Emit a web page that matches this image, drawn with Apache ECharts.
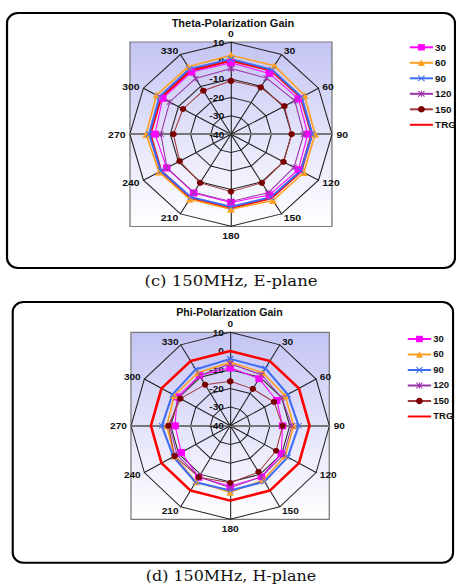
<!DOCTYPE html>
<html>
<head>
<meta charset="utf-8">
<script src="https://cdn.jsdelivr.net/npm/echarts@6/dist/echarts.min.js"></script>
<style>
html,body{margin:0;padding:0;background:#fff;overflow:hidden;}
#page{position:relative;width:456px;height:588px;}
/* the original figure is stretched sideways a little, each panel by its own amount */
#chartE{position:absolute;left:0;top:0;width:415px;height:292px;transform-origin:0 0;transform:scaleX(1.0988);}
#chartH{position:absolute;left:0;top:292px;width:430px;height:296px;transform-origin:0 0;transform:scaleX(1.0605);}
</style>
</head>
<body>
<div id="page">
	<div id="chartE"></div>
	<div id="chartH"></div>
</div>
<script>
// angle (deg) of every measured point, and the tick labels round the rim
var angles = [0, 30, 60, 90, 120, 150, 180, 210, 240, 270, 300, 330];
var angleLabels = ['0', '30', '60', '90', '120', '150', '180', '210', '240', '270', '300', '330'];
var seriesNames = ['30', '60', '90', '120', '150', 'TRG'];
var gainMin = -40, gainMax = 10, gainStep = 10;

// (c) 150MHz, E-plane : Theta-Polarization Gain
var theta30  = [-1.2, -1.9, -1.5, -2.0, -1.5, -1.9, -2.9, -3.1, -3.3, -2.4, -1.0, -1.0];
var theta60  = [2.9, 3.0, 2.0, 1.6, 1.6, 1.6, 0.8, 0.8, 1.1, 2.0, 2.5, 2.3];
var theta90  = [0.8, 0.5, 0.3, 0.2, -0.2, -0.5, -0.6, -0.5, 0.0, 0.5, 0.8, 1.0];
var theta120 = [-4.3, -4.8, -3.6, -4.0, -4.0, -3.2, -3.5, -3.4, -3.5, -5.3, -5.0, -5.0];
var theta150 = [-11.0, -10.6, -9.5, -10.0, -10.0, -9.5, -8.8, -9.5, -10.7, -11.5, -12.6, -12.7];
var thetaTRG = [0, 0, 0, 0, 0, 0, 0, 0, 0, 0, 0, 0];

// (d) 150MHz, H-plane : Phi-Polarization Gain
var phi30  = [-9.0, -10.9, -12.9, -13.6, -10.3, -8.5, -7.7, -8.2, -11.5, -12.2, -9.1, -9.0];
var phi60  = [-6.0, -7.2, -8.0, -8.0, -8.0, -6.5, -4.5, -5.5, -7.5, -8.0, -7.5, -7.2];
var phi90  = [-4.2, -4.5, -6.5, -5.5, -6.5, -5.5, -5.4, -5.1, -6.9, -5.5, -6.4, -5.2];
var phi120 = [-6.8, -8.5, -10.0, -8.9, -9.0, -8.5, -6.8, -8.5, -9.0, -9.4, -10.2, -9.1];
var phi150 = [-16.2, -17.2, -14.5, -13.6, -13.3, -11.5, -9.5, -8.3, -7.6, -8.8, -11.0, -14.6];
var phiTRG = [0, 0, 0, 0, 0, 0, 0, 0, 0, 0, 0, 0];

var font = "'Liberation Sans', Arial, sans-serif";
var xMark = 'path://M1,0L5,4L9,0L10,1L6,5L10,9L9,10L5,6L1,10L0,9L4,5L0,1Z';
var starMark = 'path://M1,0L5,4L9,0L10,1L6,5L10,9L9,10L5,6L1,10L0,9L4,5L0,1Z M4.4,0L5.6,0L5.6,10L4.4,10Z';

var styles = {
	'30':  {color: '#ff00ff', line: '#ff00ff', width: 1,   symbol: 'rect',     size: 7},
	'60':  {color: '#ffa020', line: '#ffa020', width: 1.5, symbol: 'triangle', size: 7},
	'90':  {color: '#3f6cf5', line: '#3f6cf5', width: 2,   symbol: xMark,      size: 6},
	'120': {color: '#9a32a8', line: '#9a32a8', width: 1,   symbol: starMark,   size: 6},
	'150': {color: '#7a0000', line: '#a03a3a', width: 1,   symbol: 'circle',   size: 6},
	'TRG': {color: '#ff0000', line: '#ff0000', width: 2.5, symbol: 'none',     size: 0}
};

// [radius, angle] pairs, first point repeated at 360 to close the ring
function ring(vals) {
	var d = [];
	for (var i = 0; i < vals.length; i++) {
		d.push([vals[i], angles[i]]);
	}
	d.push([vals[0], 360]);
	return d;
}

function makeSeries(lists) {
	var out = [];
	for (var i = 0; i < seriesNames.length; i++) {
		var s = styles[seriesNames[i]];
		out.push({
			name: seriesNames[i],
			type: 'line',
			coordinateSystem: 'polar',
			data: ring(lists[i]),
			symbol: s.symbol,
			symbolSize: s.size,
			showSymbol: s.symbol !== 'none',
			lineStyle: {color: s.line, width: s.width},
			itemStyle: {color: s.color},
			z: i === 5 ? 3 : 4,
			animation: false
		});
	}
	return out;
}

// radar only draws the 12-sided grid and the angle names
function indicators() {
	var ind = [];
	for (var i = 0; i < angleLabels.length; i++) {
		var k = (angleLabels.length - i) % angleLabels.length; // radar goes counter-clockwise
		var item = {name: angleLabels[k], min: gainMin, max: gainMax};
		if (angleLabels[k] === '90' || angleLabels[k] === '270') {
			item.axisLine = {lineStyle: {color: '#777', width: 2}};
		}
		ind.push(item);
	}
	return ind;
}

function legendData() {
	return seriesNames.map(function (n) {
		return n === 'TRG' ? {name: n, itemStyle: {opacity: 0}} : {name: n};
	});
}

function buildOption(p) {
	return {
		backgroundColor: 'transparent',
		animation: false,
		title: {
			text: p.title, left: p.titleX, top: p.titleY, padding: 0, textAlign: 'center',
			textStyle: {fontSize: 10, fontWeight: 'bold', fontFamily: font, color: '#111'}
		},
		legend: {
			orient: 'vertical', left: p.legendX, top: p.legendY, padding: 0,
			itemWidth: p.legendW, itemHeight: 8, itemGap: 5.5,
			textStyle: {fontSize: 9, lineHeight: 10, fontWeight: 'bold', fontFamily: font, color: '#111', padding: [0, 0, 0, -3]},
			data: legendData()
		},
		radar: {
			center: p.center,
			radius: p.radius,
			startAngle: 90,
			shape: 'polygon',
			splitNumber: (gainMax - gainMin) / gainStep,
			indicator: indicators(),
			axisName: {color: '#111', fontSize: 9.5, fontWeight: 'bold', fontFamily: font},
			nameGap: 4,
			splitLine: {lineStyle: {color: '#222', width: 1}},
			splitArea: {show: false},
			axisLine: {lineStyle: {color: '#222', width: 1}},
			axisLabel: {show: false},
			z: 1
		},
		polar: {center: p.center, radius: [0, p.radius]},
		angleAxis: {type: 'value', min: 0, max: 360, startAngle: 90, clockwise: true, show: false},
		radiusAxis: {
			type: 'value', min: gainMin, max: gainMax, interval: gainStep,
			axisLine: {show: false}, axisTick: {show: false}, splitLine: {show: false},
			axisLabel: {color: '#111', fontSize: 9.5, fontWeight: 'bold', fontFamily: font, margin: 6},
			z: 2
		},
		graphic: [
			{
				type: 'rect', z: -10,
				shape: {x: p.panel[0], y: p.panel[1], width: p.panel[2], height: p.panel[3], r: 10},
				style: {fill: '#fff', stroke: '#000', lineWidth: 2}
			},
			{
				type: 'rect', z: -5,
				shape: {x: p.box[0], y: p.box[1], width: p.box[2], height: p.box[3]},
				style: {
					fill: new echarts.graphic.LinearGradient(0, 0, 0, 1, [
						{offset: 0, color: '#c4c4f4'},
						{offset: 0.55, color: '#e6e6fb'},
						{offset: 1, color: '#ffffff'}
					]),
					stroke: '#7a7a7a', lineWidth: 1.2
				}
			},
			{
				type: 'text', z: 5, x: p.capX, y: p.capY,
				style: {text: p.caption, fill: '#111', font: "15px 'DejaVu Serif', 'Liberation Serif', serif",
					textAlign: 'center', textVerticalAlign: 'middle'}
			}
		],
		series: makeSeries(p.lists)
	};
}

var chartE = echarts.init(document.getElementById('chartE'), null, {renderer: 'svg'});
chartE.setOption(buildOption({
	title: 'Theta-Polarization Gain', titleX: 212, titleY: 18.5,
	legendX: 372, legendY: 42.3, legendW: 21,
	center: [210.2, 134.2], radius: 92,
	panel: [6.4, 13, 407.7, 255],
	box: [118.3, 42, 183.8, 184.5],
	caption: '(c) 150MHz, E-plane', capX: 210.2, capY: 281,
	lists: [theta30, theta60, theta90, theta120, theta150, thetaTRG]
}));

var chartH = echarts.init(document.getElementById('chartH'), null, {renderer: 'svg'});
chartH.setOption(buildOption({
	title: 'Phi-Polarization Gain', titleX: 216.4, titleY: 15.5,
	legendX: 383.5, legendY: 42, legendW: 22,
	center: [217.1, 133.8], radius: 93.5,
	panel: [12, 10, 415.2, 260.7],
	box: [123.5, 40.3, 187, 187],
	caption: '(d) 150MHz, H-plane', capX: 217.8, capY: 284,
	lists: [phi30, phi60, phi90, phi120, phi150, phiTRG]
}));
</script>
</body>
</html>
